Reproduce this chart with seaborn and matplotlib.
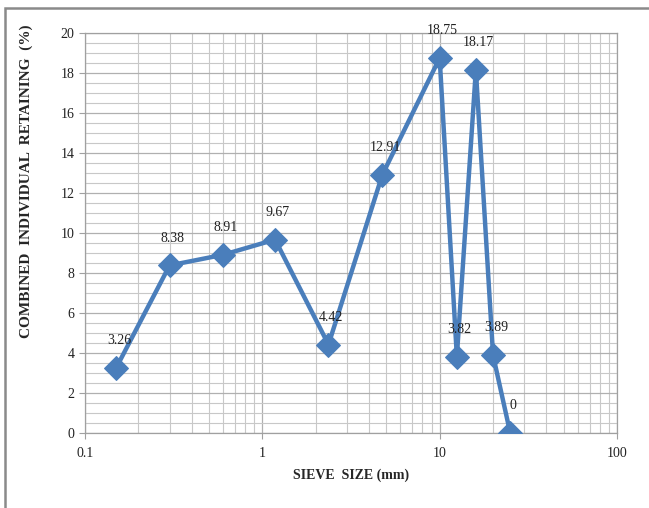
import matplotlib
matplotlib.use("Agg")
import matplotlib.pyplot as plt
import matplotlib.ticker as mticker
from matplotlib.patches import Rectangle
import seaborn as sns
import pandas as pd

sieve_mm = [0.15, 0.3, 0.6, 1.18, 2.36, 4.75, 10, 12.5, 16, 20, 25]
retained_pct = [3.26, 8.38, 8.91, 9.67, 4.42, 12.91, 18.75, 3.82, 18.17, 3.89, 0]
x_ticks = [0.1, 1, 10, 100]
x_tick_labels = ["0.1", "1", "10", "100"]

sns.set_theme(style="white")
plt.rcParams["font.family"] = ["Liberation Serif", "DejaVu Serif"]

df = pd.DataFrame({"size": sieve_mm, "ret": retained_pct})

fig = plt.figure(figsize=(6.49, 5.08), dpi=100)
ax = fig.add_axes([85 / 649, 75 / 508, (617 - 85) / 649, (433 - 33) / 508])

blue = "#4A7EBB"
sns.lineplot(data=df, x="size", y="ret", ax=ax, color=blue, linewidth=3.2,
             marker="D", markersize=12, markeredgecolor=blue, sort=False, zorder=5)

ax.set_xscale("log")
ax.set_xlim(0.1, 100)
ax.set_ylim(0, 20)
ax.set_xticks(x_ticks)
ax.set_xticklabels(x_tick_labels)
ax.xaxis.set_minor_locator(mticker.LogLocator(base=10, subs=range(2, 10)))
ax.xaxis.set_minor_formatter(mticker.NullFormatter())
ax.set_yticks(range(0, 21, 2))
ax.yaxis.set_minor_locator(mticker.MultipleLocator(0.5))

ax.grid(True, which="major", color="#b0b0b0", linewidth=0.9)
ax.grid(True, which="minor", color="#c8c8c8", linewidth=0.8)
ax.set_axisbelow(True)
for s in ax.spines.values():
    s.set_color("#a0a0a0")
    s.set_linewidth(0.9)

ax.tick_params(axis="both", which="major", labelsize=10, labelcolor="#222222",
               length=4, width=0.8, direction="out", bottom=True, left=True,
               color="#a0a0a0")
ax.tick_params(axis="both", which="minor", length=0)
ax.tick_params(axis="x", pad=6)

ax.set_xlabel("SIEVE  SIZE (mm)", fontsize=10, fontweight="bold", labelpad=6)
ax.set_ylabel("COMBINED  INDIVIDUAL  RETAINING  (%)", fontsize=11,
              fontweight="bold")
ax.yaxis.set_label_coords(-0.098, 0.63)

for xv, yv in zip(sieve_mm, retained_pct):
    ax.annotate(f"{yv:g}", (xv, yv), xytext=(2, 15), textcoords="offset points",
                ha="center", va="bottom", fontsize=10, color="#222222",
                annotation_clip=False, zorder=6)

fig.patches.append(Rectangle((5 / 649, -0.1), 1.2, 1.1 - 8 / 508,
                             transform=fig.transFigure, fill=False,
                             edgecolor="#8a8a8a", linewidth=1.8))

fig.savefig("out.png", dpi=100)
